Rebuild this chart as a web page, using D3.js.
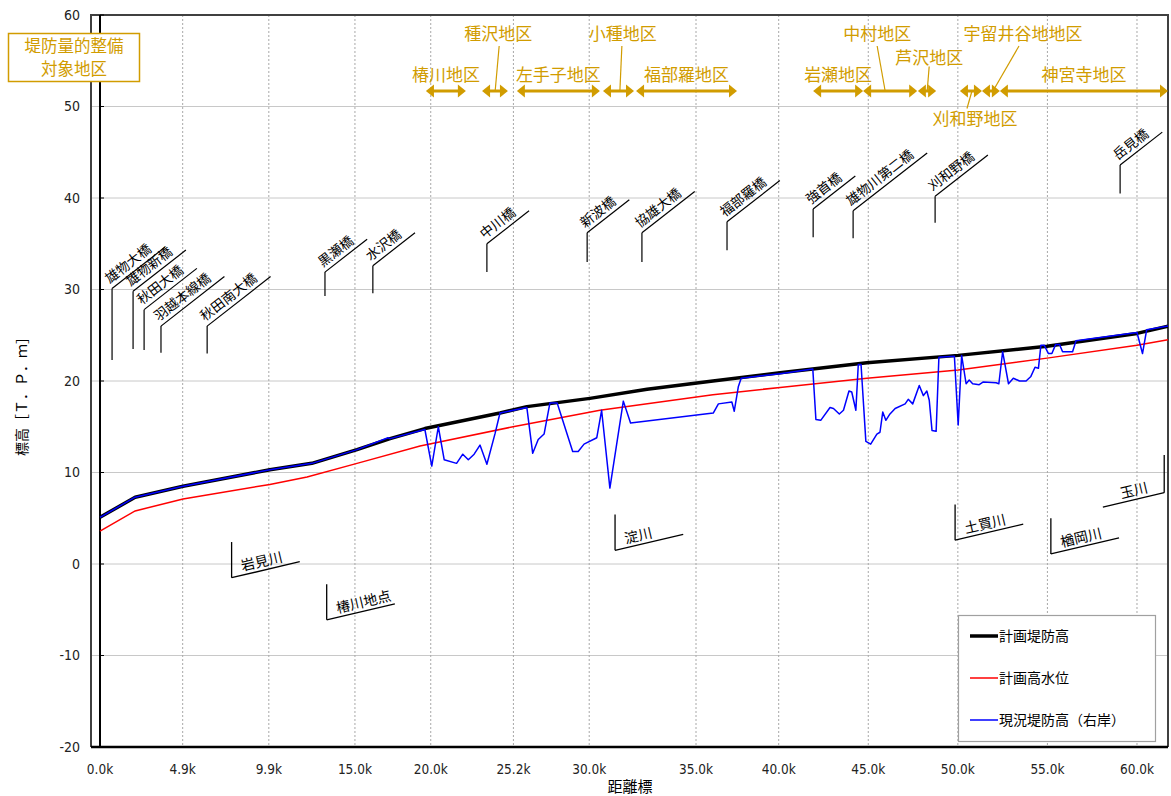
<!DOCTYPE html>
<html>
<head>
<meta charset="utf-8">
<script src="https://cdn.jsdelivr.net/npm/d3@7"></script>
<style>
  body { margin: 0; background: #fff; }
  svg { display: block; font-family: "Noto Sans CJK JP", sans-serif; }
  .num { font-family: "DejaVu Sans Condensed", "DejaVu Sans", sans-serif; font-stretch: condensed; }
</style>
</head>
<body>
<div id="chart"></div>
<script>
// x 軸は横断面の番号（カテゴリ軸）、目盛ラベルは距離標
const xTickIdx = [0, 24, 49, 74, 96, 120, 142, 173, 197, 223, 249, 275, 301];
const xTickLabels = ["0.0k", "4.9k", "9.9k", "15.0k", "20.0k", "25.2k", "30.0k", "35.0k", "40.0k", "45.0k", "50.0k", "55.0k", "60.0k"];
const yTicks = [-20, -10, 0, 10, 20, 30, 40, 50, 60];

// 計画堤防高 [断面番号, 標高]
const planLevee = [[0, 5.1], [10.2, 7.3], [24.1, 8.5], [49.3, 10.3], [61.5, 11.0], [74.6, 12.5], [84.2, 13.7],
  [94.3, 14.8], [116.1, 16.5], [123.9, 17.2], [142.2, 18.1], [158.8, 19.1], [177.9, 20.0], [197.4, 20.9],
  [222.6, 22.0], [249.1, 22.8], [274.9, 23.8], [301.0, 25.2], [310, 26.0]];

// 計画高水位
const highWater = [[0, 3.6], [10.2, 5.8], [24.1, 7.1], [49.3, 8.7], [60.1, 9.5], [74.6, 11.0], [92.9, 12.9],
  [119.9, 15.0], [145.1, 16.8], [177.9, 18.5], [197.4, 19.3], [222.6, 20.3], [249.1, 21.2], [274.9, 22.5],
  [301.0, 23.9], [310, 24.5]];

// 現況堤防高（右岸）
const currentLevee = [[0, 5.1], [10.2, 7.3], [24.1, 8.5], [49.3, 10.3], [61.5, 11.0], [74.6, 12.5], [83.6, 13.8],
  [84.2, 13.7], [94.3, 14.7], [96.3, 10.7], [98.2, 15.0], [99.9, 11.4], [103.5, 11.0], [105.3, 12.0], [106.9, 11.4],
  [108.6, 12.0], [110.3, 13.0], [112.3, 10.9], [114.7, 14.3], [116.1, 16.5], [123.9, 17.1], [125.6, 12.1],
  [127.2, 13.6], [128.9, 14.2], [130.6, 17.6], [132.7, 17.6], [137.2, 12.3], [138.8, 12.3], [140.5, 13.1],
  [144.2, 13.8], [145.6, 16.8], [148.0, 8.3], [151.9, 17.8], [154.0, 15.4], [178.0, 16.5], [179.5, 17.5],
  [183.4, 17.7], [184.1, 16.7], [185.3, 19.4], [186.1, 20.3], [197.4, 20.8], [206.9, 21.3], [207.8, 15.8],
  [209.2, 15.7], [211.9, 17.1], [212.9, 17.0], [214.6, 16.4], [215.8, 16.8], [217.4, 18.9], [218.2, 18.8],
  [219.4, 16.8], [220.1, 21.8], [220.9, 21.8], [222.3, 13.4], [223.7, 13.1], [225.5, 14.2], [226.4, 14.4],
  [227.2, 16.6], [228.1, 15.7], [229.3, 16.4], [230.8, 17.0], [233.7, 17.5], [234.6, 18.0], [235.9, 17.5],
  [237.8, 19.5], [239.0, 18.4], [240.0, 18.9], [240.7, 17.9], [241.5, 14.6], [242.7, 14.5], [243.5, 22.6],
  [248.0, 22.7], [249.1, 15.2], [250.1, 22.8], [251.4, 19.7], [252.3, 20.1], [253.3, 19.7], [255.2, 19.6],
  [256.4, 19.9], [260.1, 19.8], [260.9, 19.7], [262.0, 23.2], [263.7, 19.7], [265.1, 20.3], [266.9, 20.0],
  [268.8, 20.0], [270.2, 20.5], [271.4, 21.5], [272.4, 21.4], [273.1, 23.9], [274.1, 23.9], [275.3, 23.0],
  [276.3, 23.0], [277.4, 24.0], [278.5, 24.0], [279.4, 23.2], [282.3, 23.2], [283.3, 24.4], [301.0, 25.3],
  [302.6, 23.0], [303.8, 25.6], [310, 26.0]];

// 堤防量的整備対象地区（断面番号の範囲）
const districtNames = ["椿川地区", "種沢地区", "左手子地区", "小種地区", "福部羅地区", "岩瀬地区", "中村地区",
  "芦沢地区", "刈和野地区", "宇留井谷地地区", "神宮寺地区"];
const districtFrom = [94.6, 110.9, 121.0, 146.0, 155.6, 207.0, 221.5, 237.4, 249.6, 256.0, 261.2];
const districtTo = [106.2, 118.4, 145.1, 155.0, 184.9, 221.5, 237.2, 242.7, 256.0, 261.2, 310];

// 橋梁
const bridgeNames = ["雄物大橋", "雄物新橋", "秋田大橋", "羽越本線橋", "秋田南大橋", "黒瀬橋", "水沢橋", "中川橋",
  "新波橋", "協雄大橋", "福部羅橋", "強首橋", "雄物川第二橋", "刈和野橋", "岳見橋"];
const bridgeIdx = [3.5, 9.6, 12.8, 17.7, 31.1, 65.3, 79.2, 112.3, 141.4, 157.3, 182.0, 207.0, 218.6, 242.4, 296.1];
const bridgeBase = [22.3, 23.5, 23.4, 23.1, 23.0, 29.3, 29.6, 31.9, 33.0, 33.0, 34.3, 35.7, 35.6, 37.3, 40.5];
const bridgeTop = [30.1, 29.8, 27.8, 26.0, 26.0, 31.9, 32.6, 35.0, 36.2, 36.2, 37.4, 38.8, 38.6, 40.2, 43.6];

// 支川・地点
const tribNames = ["岩見川", "椿川地点", "淀川", "土買川", "楢岡川", "玉川"];
const tribIdx = [38.2, 65.8, 149.5, 248.2, 276.0, 308.9];
const tribTop = [2.4, -2.2, 5.4, 6.5, 5.0, 11.9];
const tribCorner = [-1.5, -6.1, 1.5, 2.6, 1.1, 7.8];

const width = 1171, height = 796;
const gold = "#d19c00";

const x = d3.scaleLinear().domain([0, 310]).range([100, 1168]);
const y = d3.scaleLinear().domain([-20, 60]).range([747, 15]);

const svg = d3.select("#chart").append("svg")
  .attr("width", width).attr("height", height);

svg.append("defs").append("clipPath").attr("id", "plot-clip")
  .append("rect").attr("x", 91).attr("y", 15).attr("width", 1168 - 91).attr("height", 747 - 15);

// グリッド
svg.append("g").selectAll("line").data(yTicks).join("line")
  .attr("x1", 91).attr("x2", 1168)
  .attr("y1", d => y(d)).attr("y2", d => y(d))
  .attr("stroke", "#c8c8c8").attr("stroke-width", 1);

svg.append("g").selectAll("line").data(xTickIdx.slice(1)).join("line")
  .attr("x1", d => x(d)).attr("x2", d => x(d))
  .attr("y1", 15).attr("y2", 747)
  .attr("stroke", "#a8a8a8").attr("stroke-width", 1).attr("stroke-dasharray", "2,2");

// 枠
svg.append("path")
  .attr("d", "M91,747 V15 H1168 V747")
  .attr("fill", "none").attr("stroke", "#404040").attr("stroke-width", 2);
svg.append("line").attr("x1", 100).attr("x2", 100).attr("y1", 15).attr("y2", 747)
  .attr("stroke", "#000").attr("stroke-width", 2);
svg.append("line").attr("x1", 91).attr("x2", 1168).attr("y1", 747).attr("y2", 747)
  .attr("stroke", "#000").attr("stroke-width", 2.5);

// y 軸目盛
svg.append("g").selectAll("line").data(yTicks).join("line")
  .attr("x1", 100).attr("x2", 104).attr("y1", d => y(d)).attr("y2", d => y(d))
  .attr("stroke", "#000");
svg.append("g").selectAll("text").data(yTicks).join("text")
  .attr("class", "num")
  .attr("x", 80).attr("y", d => y(d)).attr("dy", "0.35em")
  .attr("text-anchor", "end").attr("font-size", 14).attr("fill", "#222")
  .text(d => d);

// x 軸目盛
svg.append("g").selectAll("text").data(xTickIdx).join("text")
  .attr("class", "num")
  .attr("x", d => x(d)).attr("y", 769).attr("dy", "0.35em")
  .attr("text-anchor", "middle").attr("font-size", 13.5).attr("fill", "#222")
  .text((d, i) => xTickLabels[i]);

svg.append("text").attr("x", 630).attr("y", 787).attr("dy", "0.35em")
  .attr("text-anchor", "middle").attr("font-size", 15).text("距離標");
svg.append("text").attr("transform", "translate(22,393) rotate(-90)").attr("dy", "0.35em")
  .attr("text-anchor", "middle").attr("font-size", 14).text("標高［Ｔ．Ｐ．ｍ］");

// 線
const line = d3.line().x(d => x(d[0])).y(d => y(d[1]));
const lines = svg.append("g").attr("clip-path", "url(#plot-clip)");
lines.append("path").datum(planLevee).attr("d", line)
  .attr("fill", "none").attr("stroke", "#000").attr("stroke-width", 3.5).attr("stroke-linejoin", "round");
lines.append("path").datum(highWater).attr("d", line)
  .attr("fill", "none").attr("stroke", "#ff0000").attr("stroke-width", 1.5);
lines.append("path").datum(currentLevee).attr("d", line)
  .attr("fill", "none").attr("stroke", "#0000ff").attr("stroke-width", 1.5).attr("stroke-linejoin", "round");

// 橋梁の引出線
const bridgeG = svg.append("g");
const bAngle = -38, bRad = bAngle * Math.PI / 180;
bridgeNames.forEach((name, i) => {
  const bx = x(bridgeIdx[i]), by0 = y(bridgeBase[i]), by1 = y(bridgeTop[i]);
  bridgeG.append("line").attr("x1", bx).attr("x2", bx).attr("y1", by0).attr("y2", by1)
    .attr("stroke", "#000").attr("stroke-width", 1.2);
  const t = bridgeG.append("text")
    .attr("transform", `translate(${bx},${by1}) rotate(${bAngle})`)
    .attr("x", 1).attr("y", -5).attr("font-size", 13.5).text(name);
  const len = t.node().getComputedTextLength() + 13;
  bridgeG.append("line").attr("x1", bx).attr("y1", by1)
    .attr("x2", bx + len * Math.cos(bRad)).attr("y2", by1 + len * Math.sin(bRad))
    .attr("stroke", "#000").attr("stroke-width", 1.2);
});

// 支川の引出線
const tribG = svg.append("g");
const tAngle = -13.2, tRad = tAngle * Math.PI / 180;
tribNames.forEach((name, i) => {
  const tx = x(tribIdx[i]), ty0 = y(tribTop[i]), ty1 = y(tribCorner[i]);
  tribG.append("line").attr("x1", tx).attr("x2", tx).attr("y1", ty0).attr("y2", ty1)
    .attr("stroke", "#000").attr("stroke-width", 1.3);
  const right = i === tribNames.length - 1;
  const len = right ? 63 : 70;
  const sx = right ? tx - len * Math.cos(tRad) : tx;
  const sy = right ? ty1 - len * Math.sin(tRad) : ty1;
  tribG.append("line").attr("x1", sx).attr("y1", sy)
    .attr("x2", sx + len * Math.cos(tRad)).attr("y2", sy + len * Math.sin(tRad))
    .attr("stroke", "#000").attr("stroke-width", 1.3);
  tribG.append("text")
    .attr("transform", `translate(${sx},${sy}) rotate(${tAngle})`)
    .attr("x", right ? 20 : 12).attr("y", -4).attr("font-size", 14).text(name);
});

// 対象地区の矢印
const arrowY = 91;
const rowY = { base: 75, top: 34, mid: 58.5, below: 119.5 };
const calloutLayout = {
  "種沢地区": { at: 114.7, row: "top", ldx: 4, tdx: 3 },
  "小種地区": { at: 150.9, row: "top", ldx: 2, tdx: 3 },
  "中村地区": { at: 227.9, row: "top", ldx: -8, tdx: -8 },
  "芦沢地区": { at: 240.1, row: "mid", ldx: 2, tdx: 2 },
  "刈和野地区": { at: 253.1, row: "below", ldx: -5, tdx: 3 },
  "宇留井谷地地区": { at: 259.2, row: "top", ldx: 26, tdx: 30 }
};
const distG = svg.append("g").attr("fill", gold).attr("stroke", gold);
const headL = 8, headW = 6.5;
districtNames.forEach((name, i) => {
  const x1 = x(districtFrom[i]), x2 = x(districtTo[i]);
  distG.append("line").attr("x1", x1 + headL - 1).attr("x2", x2 - headL + 1)
    .attr("y1", arrowY).attr("y2", arrowY).attr("stroke-width", 3);
  distG.append("path").attr("stroke", "none")
    .attr("d", `M${x1},${arrowY} L${x1 + headL},${arrowY - headW} L${x1 + headL},${arrowY + headW} Z`);
  distG.append("path").attr("stroke", "none")
    .attr("d", `M${x2},${arrowY} L${x2 - headL},${arrowY - headW} L${x2 - headL},${arrowY + headW} Z`);

  const c = calloutLayout[name];
  let lx = (x1 + x2) / 2, ly = rowY.base;
  if (c) {
    const px = x(c.at);
    ly = rowY[c.row];
    lx = px + c.tdx;
    const ey = c.row === "below" ? ly - 11 : ly + (c.row === "top" ? 12 : 8);
    distG.append("line").attr("x1", px).attr("y1", arrowY)
      .attr("x2", px + c.ldx).attr("y2", ey).attr("stroke-width", 1.2);
  }
  distG.append("text").attr("stroke", "none")
    .attr("x", lx).attr("y", ly).attr("dy", "0.35em")
    .attr("text-anchor", "middle").attr("font-size", 17).text(name);
});

// 注記ボックス
const note = svg.append("g");
note.append("rect").attr("x", 8.5).attr("y", 33.5).attr("width", 131).attr("height", 48)
  .attr("fill", "#fff").attr("stroke", gold).attr("stroke-width", 1.5);
note.append("text").attr("x", 74).attr("y", 46).attr("dy", "0.35em").attr("text-anchor", "middle")
  .attr("font-size", 16.5).attr("fill", gold).text("堤防量的整備");
note.append("text").attr("x", 74).attr("y", 69.5).attr("dy", "0.35em").attr("text-anchor", "middle")
  .attr("font-size", 16.5).attr("fill", gold).text("対象地区");

// 凡例
const legendItems = [
  { label: "計画堤防高", color: "#000", w: 3.5 },
  { label: "計画高水位", color: "#ff0000", w: 1.5 },
  { label: "現況堤防高（右岸）", color: "#0000ff", w: 1.5 }
];
const legend = svg.append("g");
legend.append("rect").attr("x", 958.5).attr("y", 615.5).attr("width", 197).attr("height", 126)
  .attr("fill", "#fff").attr("stroke", "#a0a0a0").attr("stroke-width", 1.2);
legendItems.forEach((d, i) => {
  const ly = 636 + i * 42;
  legend.append("line").attr("x1", 970).attr("x2", 998).attr("y1", ly).attr("y2", ly)
    .attr("stroke", d.color).attr("stroke-width", d.w);
  legend.append("text").attr("x", 999).attr("y", ly).attr("dy", "0.35em")
    .attr("font-size", 14).text(d.label);
});
</script>
</body>
</html>
